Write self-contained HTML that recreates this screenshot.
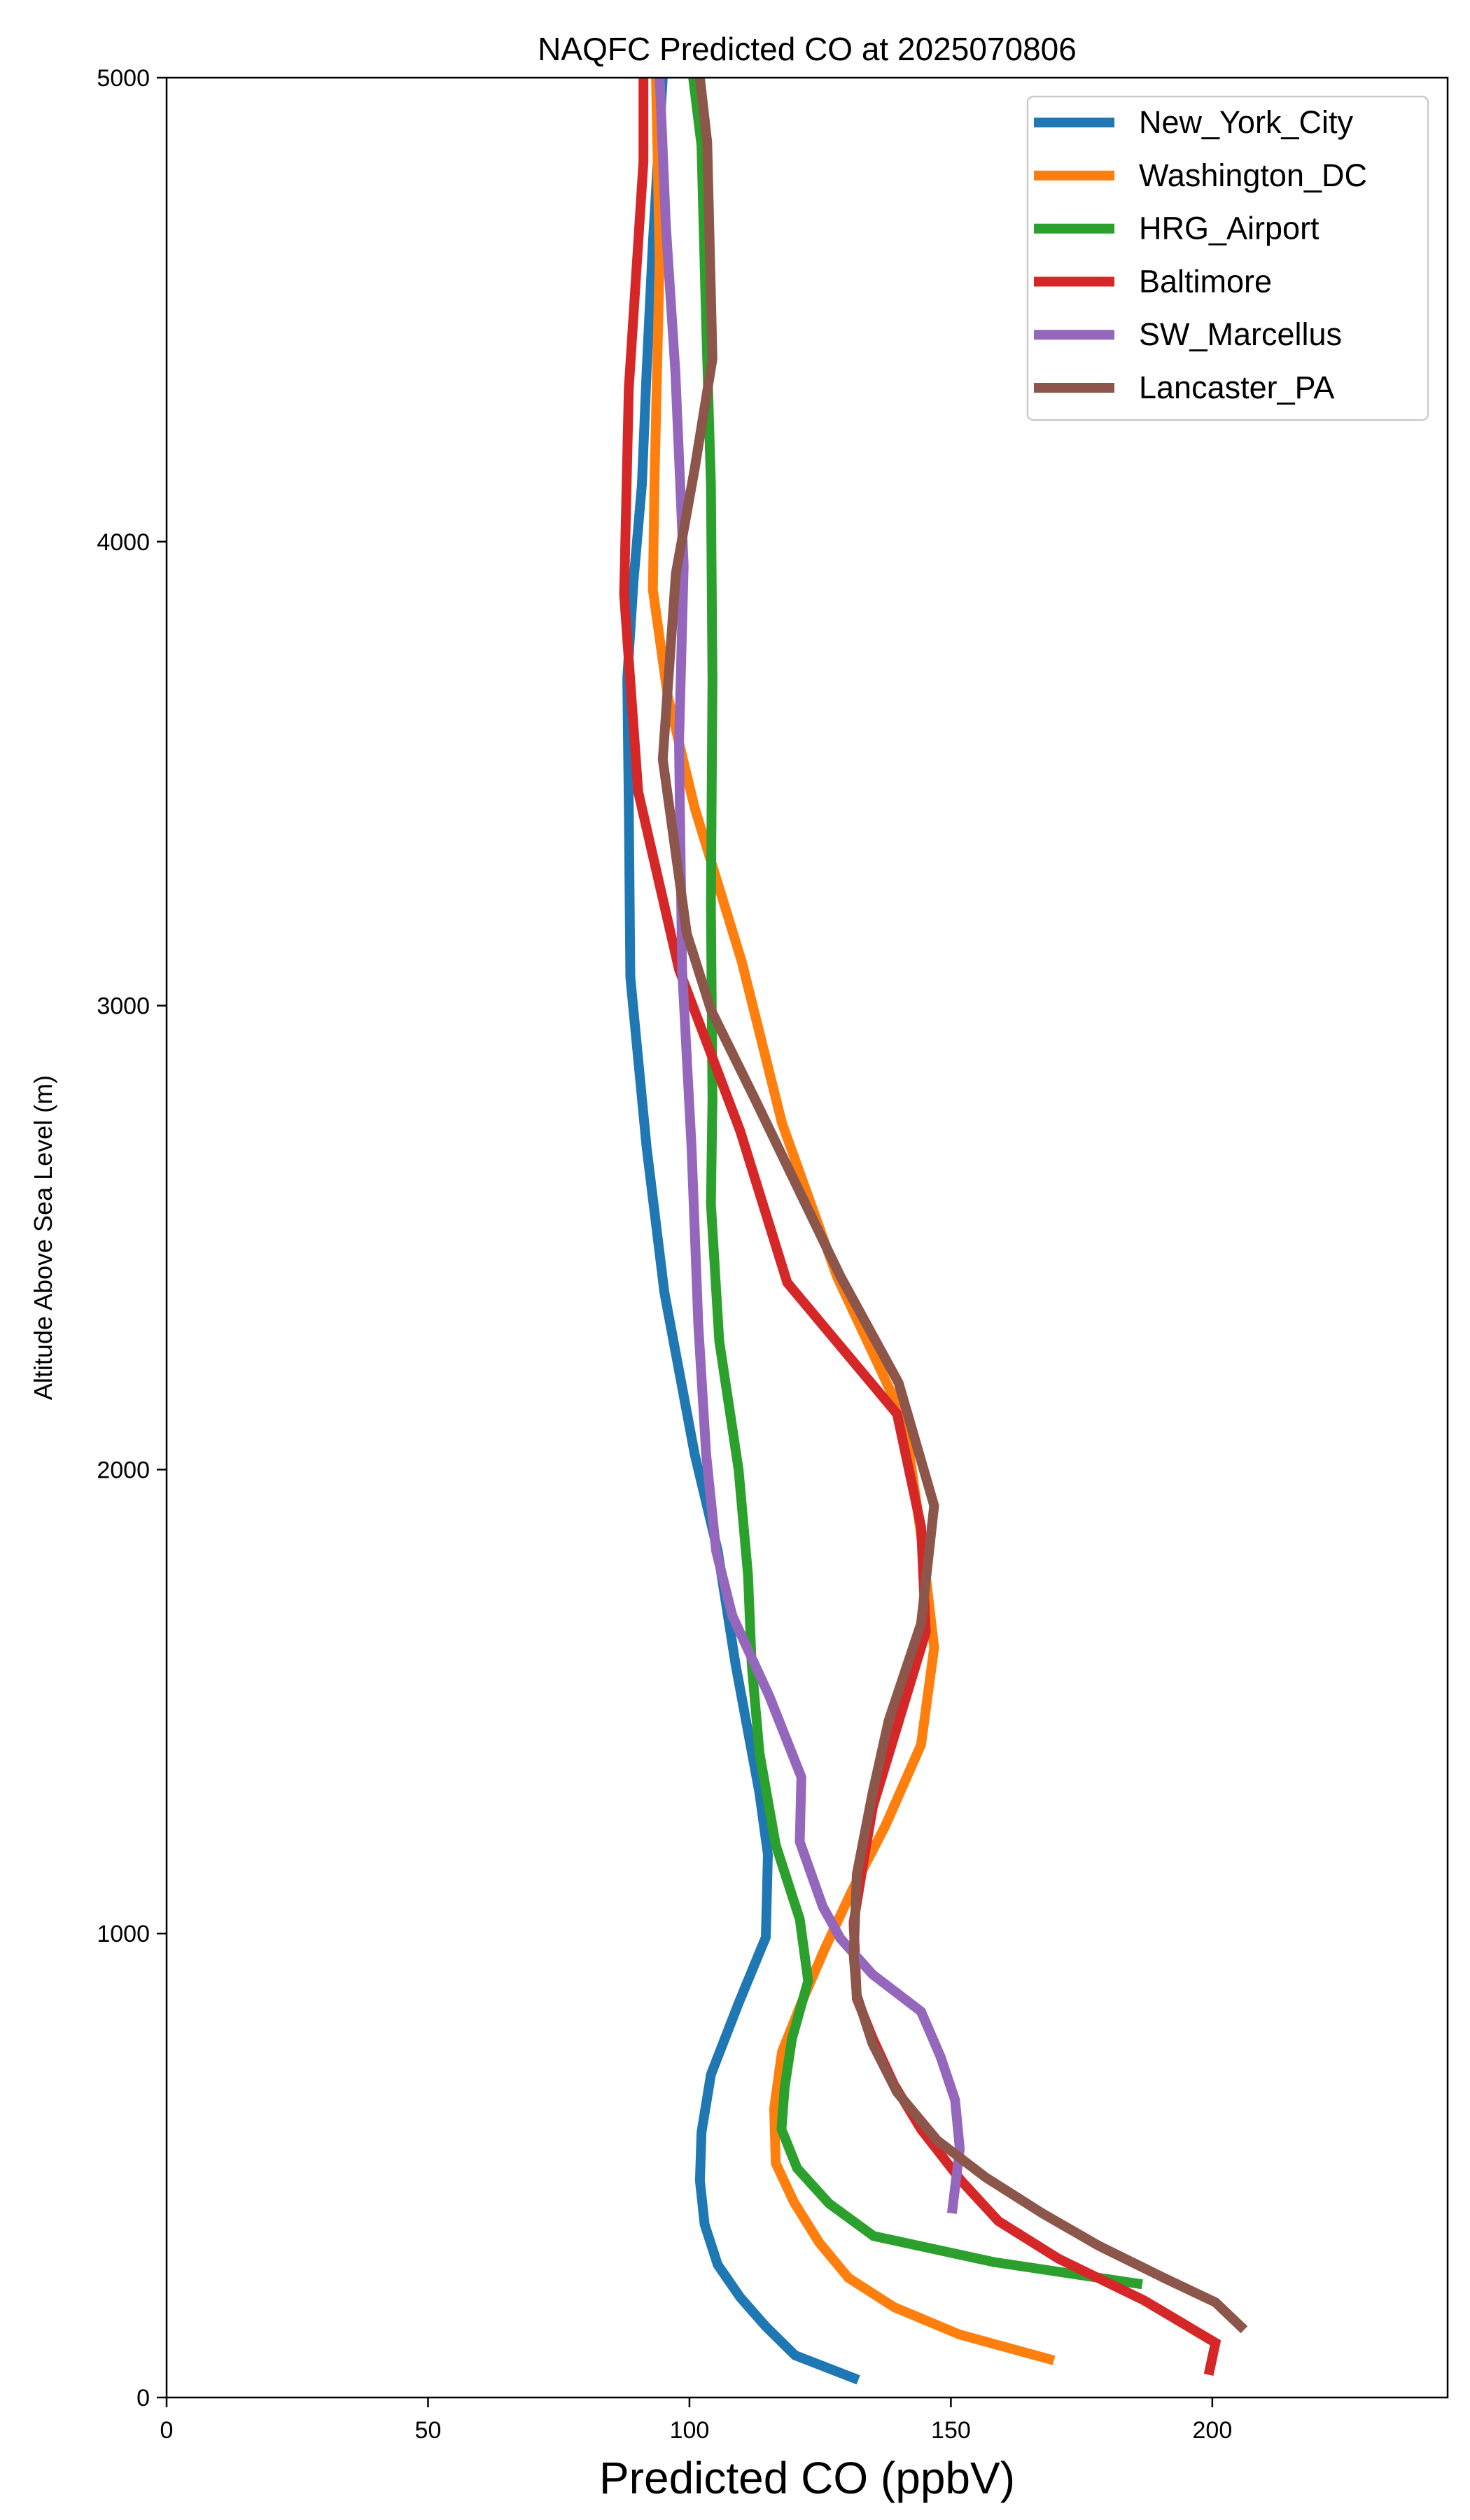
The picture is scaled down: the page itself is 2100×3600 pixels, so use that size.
<!DOCTYPE html>
<html><head><meta charset="utf-8"><style>
html,body{margin:0;padding:0;background:#fff}
svg{display:block;font-family:"Liberation Sans","DejaVu Sans",sans-serif}
</style></head><body>
<svg id="chart" width="2100" height="3600" viewBox="0 0 2100 3600" xmlns="http://www.w3.org/2000/svg">
<rect width="2100" height="3600" fill="#fff"/>
<text x="1153" y="86" font-size="46" text-anchor="middle">NAQFC Predicted CO at 2025070806</text>
<g id="plot"></g>
<g id="axes"></g>
<g id="legend"></g>
</svg>
<script>
const seriesNames = ["New_York_City","Washington_DC","HRG_Airport","Baltimore","SW_Marcellus","Lancaster_PA"];
const seriesColors = ["#1f77b4","#ff7f0e","#2ca02c","#d62728","#9467bd","#8c564b"];
const nycCO = [132.3,120.2,114.6,109.7,105.4,102.9,102.0,102.3,104.1,109.4,114.6,115.0,113.4,108.8,105.4,101.0,95.2,91.8,88.7,88.4,88.1,89.3,90.9,91.8,93.0,94.9];
const nycAlt = [38,91,153,216,286,373,467,571,696,850,992,1170,1302,1581,1825,2033,2382,2695,3061,3426,3705,3914,4123,4366,4645,5000];
const dcCO = [169.7,151.6,139.1,130.4,124.8,120.0,116.5,116.2,117.7,121.4,125.8,131.1,137.5,144.3,146.8,144.3,141.2,128.2,117.7,110.0,101.0,95.8,93.0,93.3,94.3,93.6];
const dcAlt = [80,136,195,258,334,421,505,623,745,850,965,1093,1233,1407,1616,1859,2103,2416,2747,3095,3426,3670,3896,4123,4610,5000];
const hrgCO = [186.6,158.2,135.2,126.7,120.6,117.6,118.2,119.6,122.7,121.1,116.5,113.4,111.9,111.2,109.4,105.7,104.1,104.4,104.1,104.4,104.1,103.2,102.3,100.7];
const hrgAlt = [244,292,348,418,494,578,668,773,898,1031,1191,1389,1581,1772,1999,2277,2573,2799,3217,3705,4123,4471,4854,5000];
const balCO = [199.3,200.6,187.0,170.6,159.1,152.0,144.3,139.1,135.1,132.0,131.4,133.5,135.1,145.2,144.3,139.7,118.7,109.7,98.0,90.2,87.5,88.4,91.2,91.2];
const balAlt = [49,118,209,299,380,467,578,675,773,860,1024,1170,1274,1650,1877,2120,2403,2730,3078,3461,3886,4331,4819,5000];
const swmCO = [150.2,151.7,150.8,148.0,144.3,135.0,128.9,125.5,121.1,121.4,115.3,108.2,105.1,103.2,101.7,100.4,98.6,98.0,98.9,97.3,95.5,94.3];
const swmAlt = [397,536,641,735,832,912,989,1058,1198,1337,1511,1685,1825,2033,2312,2695,3078,3565,3948,4366,4680,5000];
const lanCO = [206.1,200.6,190.7,178.3,167.5,156.7,147.4,139.7,135.0,132.0,131.4,132.0,135.0,138.1,144.3,146.8,140.0,128.9,112.5,104.1,99.5,94.9,97.4,101.0,104.4,103.4,102.0];
const lanAlt = [146,205,258,327,397,474,554,658,763,867,954,1128,1302,1459,1668,1922,2187,2416,2799,2991,3155,3531,3931,4157,4394,4861,5000];
const xTicks = [0,50,100,150,200];
const yTicks = [0,1000,2000,3000,4000,5000];

const L=238,R=2068,T=111,B=3425,XMAX=245,YMAX=5000;
const sx=v=>L+(v/XMAX)*(R-L);
const sy=v=>B-(v/YMAX)*(B-T);
const NS="http://www.w3.org/2000/svg";
const plot=document.getElementById('plot'),axes=document.getElementById('axes'),leg=document.getElementById('legend');
function mk(t,a,p){const e=document.createElementNS(NS,t);for(const k in a)e.setAttribute(k,a[k]);p.appendChild(e);return e;}

const clip=mk('clipPath',{id:'clp'},plot);
mk('rect',{x:L,y:T,width:R-L,height:B-T},clip);
const data=[[nycCO,nycAlt],[dcCO,dcAlt],[hrgCO,hrgAlt],[balCO,balAlt],[swmCO,swmAlt],[lanCO,lanAlt]];
data.forEach((d,i)=>{
  const pts=d[0].map((v,j)=>sx(v).toFixed(1)+','+sy(d[1][j]).toFixed(1)).join(' ');
  const pl=mk('polyline',{points:pts,fill:'none',stroke:seriesColors[i],'stroke-width':14,'stroke-linejoin':'miter','clip-path':'url(#clp)'},plot);
  
  
});

const frame=mk('rect',{x:L,y:T,width:R-L,height:B-T,fill:'none',stroke:'#000','stroke-width':2.5},axes);


xTicks.forEach(v=>{
  const x=sx(v);
  mk('line',{x1:x,y1:B,x2:x,y2:B+14,stroke:'#000','stroke-width':2.5},axes);
  const t=mk('text',{x:x,y:B+58,'font-size':34,'text-anchor':'middle'},axes);
  t.textContent=v;
  
  
});
yTicks.forEach(v=>{
  const y=sy(v);
  mk('line',{x1:L,y1:y,x2:L-14,y2:y,stroke:'#000','stroke-width':2.5},axes);
  const t=mk('text',{x:L-24,y:y+12,'font-size':34,'text-anchor':'end'},axes);
  t.textContent=v;
  
  
});
const xl=mk('text',{x:(L+R)/2,y:3562,'font-size':64,'text-anchor':'middle'},axes);
xl.textContent='Predicted CO (ppbV)';


const yl=mk('text',{x:0,y:0,'font-size':36,'text-anchor':'middle',transform:'translate(74,'+((T+B)/2)+') rotate(-90)'},axes);
yl.textContent='Altitude Above Sea Level (m)';



const box=mk('rect',{x:1468,y:138,width:572,height:462,rx:8,fill:'#fff','fill-opacity':0.8,stroke:'#ccc','stroke-width':2.5},leg);


seriesNames.forEach((n,i)=>{
  const y=175+i*75.8;
  const g=mk('g',{},leg);
  
  
  mk('line',{x1:1477,y1:y,x2:1592,y2:y,stroke:seriesColors[i],'stroke-width':14},g);
  const t=mk('text',{x:1627,y:y+15,'font-size':45},g);
  t.textContent=n;
});
</script>
</body></html>
